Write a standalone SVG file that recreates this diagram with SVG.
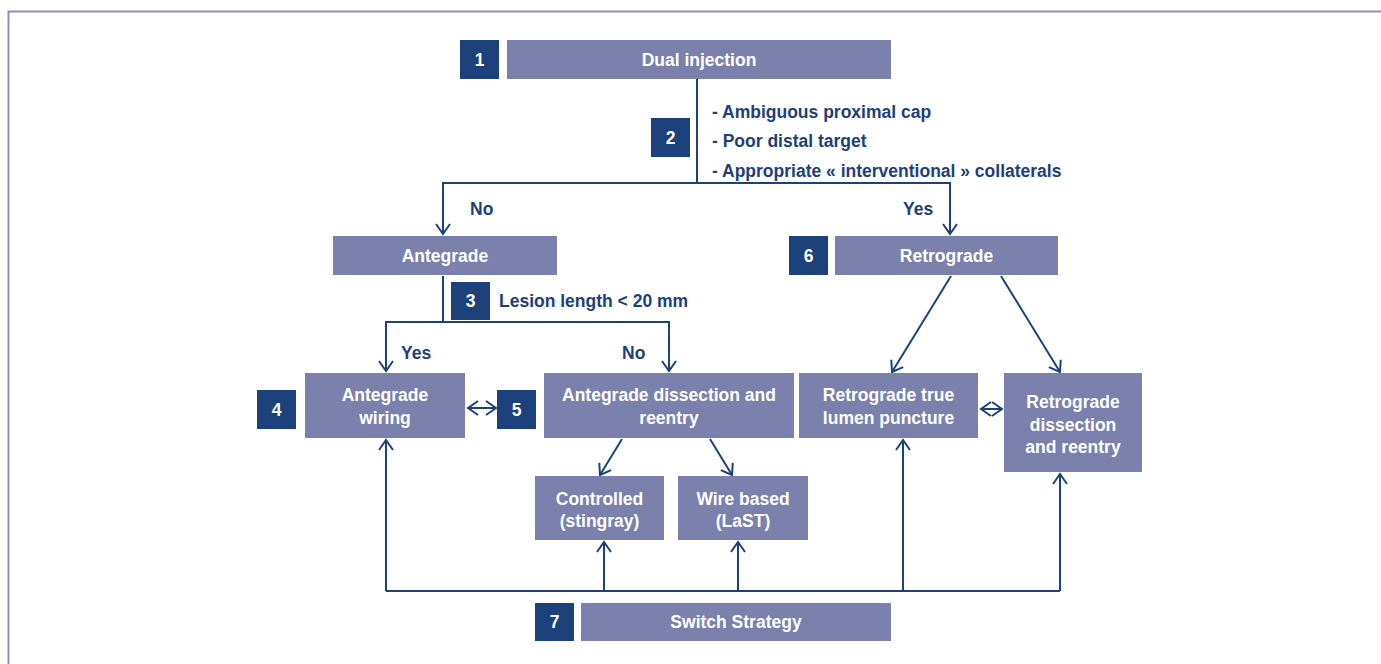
<svg xmlns="http://www.w3.org/2000/svg" width="1381" height="664" viewBox="0 0 1381 664">
<style>
.box{fill:#7b80ad}
.num{fill:#1d427b}
.wt{fill:#ffffff;font-family:"Liberation Sans",Arial,sans-serif;font-weight:bold;font-size:17.5px;text-anchor:middle}
.bt{fill:#1d3f7a;font-family:"Liberation Sans",Arial,sans-serif;font-weight:bold;font-size:17.5px}
.ln{fill:none;stroke:#1d427b;stroke-width:2}
</style>
<defs>
<marker id="ah" markerUnits="userSpaceOnUse" markerWidth="24" markerHeight="24" refX="12" refY="12" orient="auto-start-reverse" overflow="visible">
<path d="M2,5 L12,12 L2,19" fill="none" stroke="#1d427b" stroke-width="2"/>
</marker>
</defs>
<rect width="1381" height="664" fill="#ffffff"/>
<path d="M8.5,664 V11.5 H1381" fill="none" stroke="#8a8fc0" stroke-width="2"/>

<g id="connectors">
<path class="ln" d="M697,79 V183 H443 V234" marker-end="url(#ah)"/>
<path class="ln" d="M697,183 H950 V234" marker-end="url(#ah)"/>
<path class="ln" d="M443,276 V322 H386 V371" marker-end="url(#ah)"/>
<path class="ln" d="M443,322 H669 V371" marker-end="url(#ah)"/>
<path class="ln" d="M468,408 H496" marker-start="url(#ah)" marker-end="url(#ah)"/>
<path class="ln" d="M981,409 H1002" marker-start="url(#ah)" marker-end="url(#ah)"/>
<path class="ln" d="M951,276 L892,372" marker-end="url(#ah)"/>
<path class="ln" d="M1001,276 L1060,372" marker-end="url(#ah)"/>
<path class="ln" d="M622,439 L600,475" marker-end="url(#ah)"/>
<path class="ln" d="M710,439 L732,475" marker-end="url(#ah)"/>
<path class="ln" d="M386,591 H1060"/>
<path class="ln" d="M386,591 V440" marker-end="url(#ah)"/>
<path class="ln" d="M604,591 V542" marker-end="url(#ah)"/>
<path class="ln" d="M738,591 V542" marker-end="url(#ah)"/>
<path class="ln" d="M903,591 V440" marker-end="url(#ah)"/>
<path class="ln" d="M1060,591 V474" marker-end="url(#ah)"/>
</g>

<g id="n1"><rect class="num" x="460" y="40" width="39" height="39"/><text class="wt" x="479.5" y="66">1</text></g>
<g id="dual"><rect class="box" x="507" y="40" width="384" height="39"/><text class="wt" x="699" y="66">Dual injection</text></g>

<g id="n2"><rect class="num" x="651" y="118" width="39" height="39"/><text class="wt" x="670.5" y="144">2</text></g>
<g id="criteria">
<text class="bt" x="712" y="118">- Ambiguous proximal cap</text>
<text class="bt" x="712" y="147">- Poor distal target</text>
<text class="bt" x="712" y="177">- Appropriate « interventional » collaterals</text>
</g>
<g id="lbl-no1"><text class="bt" x="470" y="215">No</text></g>
<g id="lbl-yes1"><text class="bt" x="903" y="215">Yes</text></g>

<g id="antegrade"><rect class="box" x="333" y="236" width="224" height="39"/><text class="wt" x="445" y="262">Antegrade</text></g>
<g id="n6"><rect class="num" x="789" y="236" width="39" height="39"/><text class="wt" x="808.5" y="262">6</text></g>
<g id="retrograde"><rect class="box" x="835" y="236" width="223" height="39"/><text class="wt" x="946.5" y="262">Retrograde</text></g>

<g id="n3"><rect class="num" x="451" y="282" width="39" height="38"/><text class="wt" x="470.5" y="307">3</text></g>
<g id="lesion"><text class="bt" x="499" y="307">Lesion length &lt; 20 mm</text></g>
<g id="lbl-yes2"><text class="bt" x="401" y="359">Yes</text></g>
<g id="lbl-no2"><text class="bt" x="622" y="359">No</text></g>

<g id="n4"><rect class="num" x="257" y="390" width="39" height="39"/><text class="wt" x="276.5" y="416">4</text></g>
<g id="ant-wiring"><rect class="box" x="305" y="373" width="160" height="65"/><text class="wt" x="385" y="401">Antegrade</text><text class="wt" x="385" y="424">wiring</text></g>
<g id="n5"><rect class="num" x="497" y="390" width="39" height="39"/><text class="wt" x="516.5" y="416">5</text></g>
<g id="ant-dissection"><rect class="box" x="544" y="373" width="250" height="65"/><text class="wt" x="669" y="401">Antegrade dissection and</text><text class="wt" x="669" y="424">reentry</text></g>
<g id="retro-true"><rect class="box" x="799" y="373" width="179" height="65"/><text class="wt" x="888.5" y="401">Retrograde true</text><text class="wt" x="888.5" y="424">lumen puncture</text></g>
<g id="retro-dissection"><rect class="box" x="1004" y="373" width="138" height="99"/><text class="wt" x="1073" y="408">Retrograde</text><text class="wt" x="1073" y="431">dissection</text><text class="wt" x="1073" y="453">and reentry</text></g>

<g id="controlled"><rect class="box" x="535" y="476" width="129" height="64"/><text class="wt" x="599.5" y="505">Controlled</text><text class="wt" x="599.5" y="527">(stingray)</text></g>
<g id="wirebased"><rect class="box" x="678" y="476" width="130" height="64"/><text class="wt" x="743" y="505">Wire based</text><text class="wt" x="743" y="527">(LaST)</text></g>

<g id="n7"><rect class="num" x="535" y="603" width="39" height="38"/><text class="wt" x="554.5" y="628">7</text></g>
<g id="switch"><rect class="box" x="581" y="603" width="310" height="38"/><text class="wt" x="736" y="628">Switch Strategy</text></g>
</svg>
